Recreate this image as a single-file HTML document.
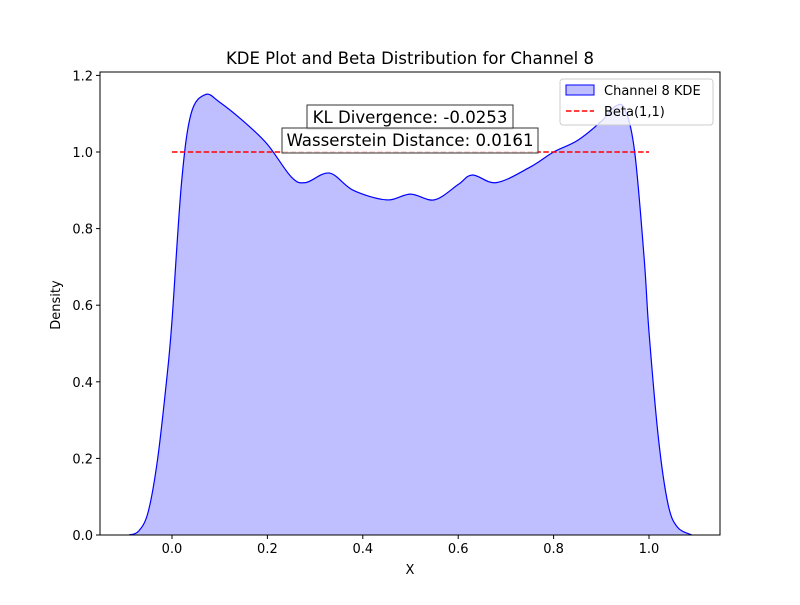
<!DOCTYPE html>
<html><head><meta charset="utf-8"><style>
body{margin:0;background:#fff;}
svg text{font-family:"DejaVu Sans","Liberation Sans",sans-serif;}
</style></head><body>
<svg id="c" width="800" height="600" xmlns="http://www.w3.org/2000/svg">
<rect width="800" height="600" fill="#fff"/>
<g id="plot"></g>
</svg>
<script>
const xs=[-0.09,-0.07,-0.05,-0.03,-0.01,0.0,0.02,0.04,0.07,0.1,0.15,0.2,0.25,0.28,0.33,0.38,0.45,0.5,0.55,0.6,0.63,0.68,0.75,0.8,0.85,0.9,0.93,0.95,0.97,0.99,1.0,1.02,1.04,1.06,1.09];
const dens=[0,0.01,0.06,0.2,0.42,0.56,0.92,1.1,1.15,1.13,1.08,1.02,0.935,0.92,0.945,0.9,0.875,0.89,0.875,0.915,0.94,0.92,0.96,1.0,1.03,1.08,1.12,1.11,1.0,0.72,0.53,0.25,0.08,0.02,0];
const xTicks=[0.0,0.2,0.4,0.6,0.8,1.0];
const yTicks=[0.0,0.2,0.4,0.6,0.8,1.0,1.2];
const betaX=[0,1], betaY=[1,1];
const L=100,R=720,T=72,B=535;
const X=v=>172+v*477, Y=v=>B-v*383;
const ns="http://www.w3.org/2000/svg";
const g=document.getElementById('plot');
function mk(t,a,txt){const e=document.createElementNS(ns,t);for(const k in a)e.setAttribute(k,a[k]);if(txt!==undefined)e.textContent=txt;g.appendChild(e);return e;}
const P=xs.map((x,i)=>[X(x),Y(dens[i])]);
let d=`M${P[0][0]},${P[0][1]}`;
for(let i=0;i<P.length-1;i++){const p0=P[Math.max(0,i-1)],p1=P[i],p2=P[i+1],p3=P[Math.min(P.length-1,i+2)];
d+=` C${p1[0]+(p2[0]-p0[0])/6},${p1[1]+(p2[1]-p0[1])/6} ${p2[0]-(p3[0]-p1[0])/6},${p2[1]-(p3[1]-p1[1])/6} ${p2[0]},${p2[1]}`;}
let e=mk('path',{d:d+` L${P[P.length-1][0]},${B} L${P[0][0]},${B} Z`,fill:'#0000ff',"fill-opacity":0.25,stroke:'none'});


e=mk('path',{d:d,fill:'none',stroke:'#0000ff','stroke-width':1.2});


e=mk('line',{x1:X(betaX[0]),y1:Y(betaY[0]),x2:X(betaX[1]),y2:Y(betaY[1]),stroke:'#ff0000','stroke-width':1.5,'stroke-dasharray':'5.5,2.4'});


e=mk('rect',{x:L,y:T,width:R-L,height:B-T,fill:'none',stroke:'#000','stroke-width':1});


xTicks.forEach(v=>{const x=X(v);
e=mk('line',{x1:x,y1:B,x2:x,y2:B+4,stroke:'#000'});
e=mk('text',{x:x,y:B+18,'text-anchor':'middle','font-size':13},v.toFixed(1));});
yTicks.forEach(v=>{const y=Y(v);
e=mk('line',{x1:L-4,y1:y,x2:L,y2:y,stroke:'#000'});
e=mk('text',{x:L-7,y:y+5,'text-anchor':'end','font-size':13},v.toFixed(1));});
</script>
<svg width="800" height="600" style="position:absolute;left:0;top:0" xmlns="http://www.w3.org/2000/svg">
<text x="410" y="64" text-anchor="middle" font-size="16.5">KDE Plot and Beta Distribution for Channel 8</text>
<text x="410" y="574" text-anchor="middle" font-size="13">X</text>
<text x="60" y="305" text-anchor="middle" font-size="13" transform="rotate(-90 60 305)">Density</text>
<rect x="307" y="105" width="206" height="24" fill="#fff" fill-opacity="0.8" stroke="#333"/>
<text x="410" y="123" text-anchor="middle" font-size="16.6">KL Divergence: -0.0253</text>
<rect x="282" y="128" width="256" height="25" fill="#fff" fill-opacity="0.8" stroke="#333"/>
<text x="410" y="146" text-anchor="middle" font-size="16.6">Wasserstein Distance: 0.0161</text>
<g>
<rect x="560" y="79" width="153" height="46" rx="3" fill="#fff" fill-opacity="0.8" stroke="#ccc"/>
<rect x="566" y="85" width="28" height="10" fill="#0000ff" fill-opacity="0.25" stroke="#0000ff"/>
<text x="604" y="95" font-size="13">Channel 8 KDE</text>
<line x1="566" y1="111" x2="594" y2="111" stroke="#ff0000" stroke-width="1.5" stroke-dasharray="5.5,2.4"/>
<text x="604" y="116" font-size="13">Beta(1,1)</text>
</g>
</svg>
</body></html>
